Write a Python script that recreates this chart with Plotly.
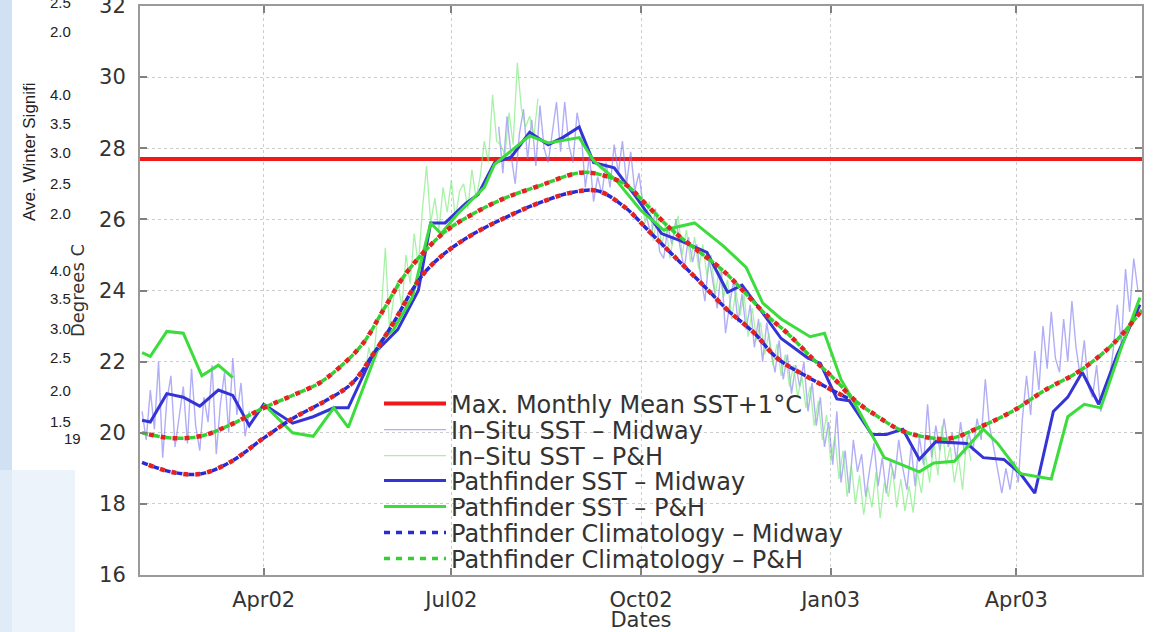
import numpy as np
import pandas as pd
import plotly.graph_objects as go

# ---------------- data ----------------
x_range = ["2002-01-31", "2003-06-01"]
tick_dates = ["2002-04-01", "2002-07-01", "2002-10-01", "2003-01-01", "2003-04-01"]
tick_labels = ["Apr02", "Jul02", "Oct02", "Jan03", "Apr03"]
y_ticks = [16, 18, 20, 22, 24, 26, 28, 30, 32]

max_mean_dates = ["2002-01-31", "2003-06-01"]
max_mean_sst = [27.7, 27.7]

insitu_step_days = 2
insitu_midway_a_start = "2002-02-01"
insitu_midway_a = [20.6, 19.8, 21.2, 20.1, 22.0, 19.3, 20.9, 21.6, 19.6, 20.4, 21.3, 19.7, 21.8, 20.2,
                   19.5, 21.0, 20.3, 21.9, 19.4, 20.8, 21.7, 20.0, 22.1, 20.5, 21.4, 19.9, 20.6]
insitu_midway_b_start = "2002-07-24"
insitu_midway_b = [28.6, 27.3, 28.9, 27.8, 27.0, 28.4, 29.1, 27.7, 28.8, 27.5, 29.2, 28.0,
                   27.6, 28.5, 29.3, 27.9, 29.3, 28.1, 27.6, 29.0, 28.4, 26.9, 27.8, 26.5,
                   27.2, 26.7, 27.6, 26.9, 28.1, 27.3, 28.2, 27.0, 27.9, 26.8, 27.3, 26.4,
                   26.0, 25.5, 26.3, 25.1, 24.9, 25.8, 25.3, 26.0, 25.2, 24.6, 25.5, 24.8,
                   25.3, 24.4, 23.7, 24.9, 24.2, 23.5, 24.6, 22.8, 23.6, 24.3, 23.1, 23.9,
                   22.9, 23.6, 22.4, 23.2, 22.0, 23.1, 22.3, 21.7, 22.6, 21.5, 22.2, 21.1,
                   21.9, 21.3, 22.0, 20.6, 21.4, 20.2, 21.0, 19.6, 20.3, 19.1, 20.6, 18.6,
                   19.5, 18.3, 19.8, 18.9, 19.4, 18.2, 19.0, 19.7, 18.5, 19.3, 18.3, 19.2,
                   18.7, 19.8, 19.0, 18.4, 19.6, 18.5, 19.9, 19.1, 20.8, 19.3, 20.2, 19.5,
                   20.4, 19.6, 20.0, 19.2, 20.3, 19.4, 20.0, 19.5, 20.4, 19.8, 21.5, 20.2,
                   19.6, 18.9, 18.3, 19.0, 18.4, 19.2, 18.6, 20.4, 21.6, 20.5, 22.3, 21.2,
                   23.0, 21.8, 23.4, 22.1, 21.7, 23.2, 22.0, 23.7, 22.4, 21.6, 22.6, 21.3,
                   21.0, 21.9, 20.6, 21.3, 21.4, 22.3, 23.6, 22.5, 24.6, 23.4, 24.9, 24.0]
insitu_ph_a_start = "2002-05-20"
insitu_ph_a = [21.6, 22.4, 21.9, 23.1, 23.4, 25.2, 22.9, 23.8, 24.3, 23.5, 25.0, 24.2,
               25.6, 24.7, 26.3, 27.5, 25.9, 26.6, 25.7, 26.9, 26.2, 27.1, 26.0, 26.8,
               27.0, 26.3, 27.4, 26.6, 27.2, 28.2, 27.6, 29.5, 28.2, 28.1, 27.8, 29.0,
               28.1, 30.4, 29.1, 28.6, 28.9, 28.3, 29.4]
insitu_ph_b_start = "2002-10-01"
insitu_ph_b = [26.8, 25.9, 26.5, 25.4, 26.2, 25.2, 25.9, 24.9, 25.6, 26.1, 25.0, 25.7,
               24.8, 25.5, 24.6, 25.3, 24.4, 25.0, 23.9, 24.6, 23.8, 24.3, 23.2, 24.0,
               23.3, 23.9, 22.7, 23.5, 22.6, 23.1, 22.2, 22.8, 21.9, 22.5, 21.6, 22.2,
               21.3, 21.9, 21.0, 21.6, 20.7, 21.3, 20.2, 20.9, 19.8, 20.5, 19.2, 19.9,
               18.7, 19.5, 18.2, 19.1, 18.0, 18.8, 17.7, 18.5, 17.9, 18.9, 17.6, 18.6,
               18.2, 19.0, 17.9, 18.7, 17.8, 18.5, 17.75, 18.9, 18.3, 19.4, 18.6, 19.8,
               18.8, 20.2, 19.1, 19.6, 18.6, 19.3, 18.4, 19.9, 19.2]

pf_midway_dates = ["2002-02-01", "2002-02-05", "2002-02-13", "2002-02-21", "2002-03-01", "2002-03-10",
                   "2002-03-17", "2002-03-25", "2002-04-01", "2002-04-15", "2002-04-25", "2002-05-05",
                   "2002-05-12", "2002-05-24", "2002-06-05", "2002-06-15", "2002-06-21", "2002-06-28",
                   "2002-07-08", "2002-07-14", "2002-07-22", "2002-07-30", "2002-08-08", "2002-08-17",
                   "2002-08-24", "2002-09-01", "2002-09-08", "2002-09-18", "2002-09-29", "2002-10-11",
                   "2002-10-20", "2002-11-02", "2002-11-12", "2002-11-19", "2002-11-28", "2002-12-08",
                   "2002-12-21", "2002-12-27", "2003-01-04", "2003-01-10", "2003-01-21", "2003-01-28",
                   "2003-02-05", "2003-02-13", "2003-02-21", "2003-03-08", "2003-03-16", "2003-03-26",
                   "2003-04-03", "2003-04-10", "2003-04-19", "2003-04-26", "2003-05-03", "2003-05-11",
                   "2003-05-20", "2003-05-31"]
pf_midway_sst = [20.35, 20.3, 21.1, 21.0, 20.75, 21.2, 21.05, 20.2, 20.8, 20.27, 20.45, 20.7,
                 20.7, 22.2, 22.9, 24.0, 25.9, 25.9, 26.45, 26.7, 27.6, 27.75, 28.45, 28.1,
                 28.3, 28.6, 27.6, 27.45, 26.6, 25.6, 25.4, 25.07, 23.95, 24.15, 23.45, 22.65,
                 22.1, 21.95, 20.95, 20.9, 19.95, 19.95, 20.1, 19.25, 19.75, 19.7, 19.3, 19.25,
                 18.85, 18.3, 20.6, 21.0, 21.7, 20.8, 22.2, 23.6]

pf_ph_dates = ["2002-02-01", "2002-02-05", "2002-02-13", "2002-02-21", "2002-03-02", "2002-03-10",
               "2002-03-17", "2002-03-24", "2002-04-01", "2002-04-15", "2002-04-25", "2002-05-05",
               "2002-05-12", "2002-05-21", "2002-05-28", "2002-06-03", "2002-06-12", "2002-06-21",
               "2002-06-26", "2002-07-04", "2002-07-17", "2002-07-22", "2002-08-08", "2002-08-17",
               "2002-09-01", "2002-09-08", "2002-09-19", "2002-10-01", "2002-10-12", "2002-10-27",
               "2002-11-10", "2002-11-21", "2002-11-29", "2002-12-08", "2002-12-22", "2002-12-29",
               "2003-01-06", "2003-01-12", "2003-01-19", "2003-01-27", "2003-02-13", "2003-02-20",
               "2003-03-02", "2003-03-16", "2003-03-23", "2003-04-03", "2003-04-18", "2003-04-26",
               "2003-05-04", "2003-05-12", "2003-05-22", "2003-05-31"]
pf_ph_sst = [22.25, 22.15, 22.85, 22.8, 21.6, 21.9, 21.55, None, 20.8, 20.0, 19.9, 20.7,
             20.15, 21.55, 22.6, 22.9, 23.8, 25.9, 25.6, 26.15, 26.9, 27.55, 28.35, 28.15,
             28.3, 27.65, 27.1, 26.25, 25.7, 25.9, 25.25, 24.65, 23.65, 23.2, 22.7, 22.8,
             21.5, 20.9, 20.15, 19.3, 18.9, 19.15, 19.2, 20.1, 19.7, 18.85, 18.7, 20.45,
             20.8, 20.7, 22.4, 23.8]

clim_midway_dates = ["2002-02-01", "2002-02-15", "2002-03-01", "2002-03-15", "2002-04-01", "2002-04-15",
                     "2002-05-01", "2002-05-14", "2002-05-24", "2002-06-03", "2002-06-13", "2002-06-19",
                     "2002-06-29", "2002-07-12", "2002-07-29", "2002-08-12", "2002-08-28", "2002-09-10",
                     "2002-09-23", "2002-10-06", "2002-10-19", "2002-11-01", "2002-11-12", "2002-11-25",
                     "2002-12-06", "2002-12-23", "2003-01-10"]
clim_midway_sst = [19.17, 18.9, 18.84, 19.15, 19.85, 20.4, 20.9, 21.4, 22.2, 23.1, 24.1, 24.57,
                   25.1, 25.6, 26.1, 26.45, 26.75, 26.8, 26.35, 25.6, 24.85, 24.1, 23.45, 22.8,
                   22.1, 21.5, 20.95]

clim_ph_dates = ["2002-02-01", "2002-02-15", "2002-03-01", "2002-03-15", "2002-04-01", "2002-04-15",
                 "2002-04-28", "2002-05-08", "2002-05-19", "2002-05-29", "2002-06-08", "2002-06-18",
                 "2002-06-29", "2002-07-12", "2002-07-27", "2002-08-13", "2002-08-31", "2002-09-08",
                 "2002-09-23", "2002-10-03", "2002-10-16", "2002-10-29", "2002-11-10", "2002-11-21",
                 "2002-12-01", "2002-12-11", "2002-12-23", "2003-01-03", "2003-01-13", "2003-01-24",
                 "2003-02-04", "2003-02-19", "2003-03-01", "2003-03-14", "2003-03-30", "2003-04-15",
                 "2003-05-02", "2003-05-18", "2003-06-01"]
clim_ph_sst = [20.0, 19.85, 19.9, 20.2, 20.7, 21.05, 21.4, 21.85, 22.5, 23.45, 24.4, 25.1,
               25.7, 26.17, 26.6, 26.95, 27.3, 27.3, 27.0, 26.45, 25.7, 25.1, 24.55, 23.9,
               23.3, 22.8, 22.1, 21.5, 20.9, 20.45, 20.07, 19.85, 19.85, 20.15, 20.6, 21.2,
               21.75, 22.5, 23.45]

legend_names = ["Max. Monthly Mean SST+1°C", "In–Situ SST – Midway", "In–Situ SST – P&H",
                "Pathfinder SST – Midway", "Pathfinder SST – P&H",
                "Pathfinder Climatology – Midway", "Pathfinder Climatology – P&H"]

remnant_ticks = [("2.5", 2), ("2.0", 31), ("4.0", 95), ("3.5", 124), ("3.0", 152), ("2.5", 183),
                 ("2.0", 213), ("4.0", 270), ("3.5", 299), ("3.0", 328), ("2.5", 357),
                 ("2.0", 390), ("1.5", 421)]

# ---------------- helpers ----------------
W, H = 1160, 632
ML, MR, MT, MB = 140, 18, 6, 57
PW, PH = W - ML - MR, H - MT - MB


def px_x(px):
    return (px - ML) / PW


def px_y(py):
    return (H - MB - py) / PH


def sampled_series(*segments):
    xs, ys = [], []
    for i, (start, vals) in enumerate(segments):
        d = pd.date_range(start, periods=len(vals), freq=f"{insitu_step_days}D")
        if i:
            xs.append(d[0] - pd.Timedelta(days=1))
            ys.append(None)
        xs += list(d)
        ys += list(vals)
    return xs, ys


FONT = "DejaVu Sans"
BLUE = "#3434d6"
GREEN = "#3ddc3d"
RED = "#f01818"

fig = go.Figure()

fig.add_trace(go.Scatter(x=max_mean_dates, y=max_mean_sst, mode="lines", name=legend_names[0],
                         line=dict(color=RED, width=4), legend="legend"))

xm, ym = sampled_series((insitu_midway_a_start, insitu_midway_a), (insitu_midway_b_start, insitu_midway_b))
fig.add_trace(go.Scatter(x=xm, y=ym, mode="lines", name=legend_names[1],
                         line=dict(color="rgba(125,120,240,0.6)", width=1.4), legend="legend2"))

xp, yp = sampled_series((insitu_ph_a_start, insitu_ph_a), (insitu_ph_b_start, insitu_ph_b))
fig.add_trace(go.Scatter(x=xp, y=yp, mode="lines", name=legend_names[2],
                         line=dict(color="rgba(120,235,120,0.65)", width=1.3), legend="legend3"))

fig.add_trace(go.Scatter(x=pf_midway_dates, y=pf_midway_sst, mode="lines", name=legend_names[3],
                         line=dict(color=BLUE, width=3), legend="legend4"))
fig.add_trace(go.Scatter(x=pf_ph_dates, y=pf_ph_sst, mode="lines", name=legend_names[4],
                         line=dict(color=GREEN, width=3), legend="legend5"))

fig.add_trace(go.Scatter(x=clim_midway_dates, y=clim_midway_sst, mode="lines", name=legend_names[5],
                         line=dict(color="#2a2ad0", width=3.5, dash="6px,6px", shape="spline"),
                         legend="legend6"))
fig.add_trace(go.Scatter(x=clim_midway_dates, y=clim_midway_sst, mode="lines", showlegend=False,
                         hoverinfo="skip",
                         line=dict(color="#e32222", width=4.5, dash="0px,7px,5px,0px", shape="spline")))
fig.add_trace(go.Scatter(x=clim_ph_dates, y=clim_ph_sst, mode="lines", name=legend_names[6],
                         line=dict(color="#33d033", width=3.5, dash="6px,6px", shape="spline"),
                         legend="legend7"))
fig.add_trace(go.Scatter(x=clim_ph_dates, y=clim_ph_sst, mode="lines", showlegend=False,
                         hoverinfo="skip",
                         line=dict(color="#e32222", width=4.5, dash="0px,7px,5px,0px", shape="spline")))

# legends (one entry each, to reproduce the tight MATLAB spacing)
legend_rows = [404, 430, 456, 481, 507, 533, 559]
legend_common = dict(x=px_x(379), xanchor="left", yanchor="middle", bgcolor="rgba(0,0,0,0)",
                     borderwidth=0, itemwidth=62, font=dict(family=FONT, size=24, color="#333333"))
legend_layout = {}
for i, row in enumerate(legend_rows):
    key = "legend" if i == 0 else f"legend{i + 1}"
    legend_layout[key] = dict(legend_common, y=px_y(row))

axis_common = dict(showline=True, linecolor="#9a9a9a", linewidth=2, mirror="ticks",
                   ticks="inside", ticklen=7, tickwidth=1.5, tickcolor="#808080",
                   showgrid=True, gridcolor="#cdcdcd", griddash="dot", gridwidth=1, zeroline=False,
                   ticklabeloverflow="allow", automargin=False)

fig.update_layout(
    width=W, height=H, autosize=False,
    margin=dict(l=ML, r=MR, t=MT, b=MB, autoexpand=False),
    paper_bgcolor="white", plot_bgcolor="white",
    font=dict(family=FONT, color="#333333"),
    xaxis=dict(axis_common, type="date", range=x_range, tickvals=tick_dates, ticktext=tick_labels,
               tickfont=dict(size=21, color="#333333"), ticklabelstandoff=5,
               title=dict(text="Dates", font=dict(size=21, color="#333333"), standoff=1)),
    yaxis=dict(axis_common, range=[16, 32], tickvals=y_ticks,
               tickfont=dict(size=21, color="#333333"), ticklabelstandoff=8,
               title=dict(text="Degrees C", font=dict(size=18, color="#333333"), standoff=10)),
    **legend_layout,
)

# slide background remnants on the left
fig.add_shape(type="rect", xref="paper", yref="paper", layer="below",
              x0=px_x(0), x1=px_x(12), y0=px_y(H), y1=px_y(0),
              fillcolor="#cfe1f2", line_width=0)
fig.add_shape(type="rect", xref="paper", yref="paper", layer="below",
              x0=px_x(0), x1=px_x(75), y0=px_y(H), y1=px_y(470),
              fillcolor="#ecf3fa", line_width=0)
fig.add_shape(type="rect", xref="paper", yref="paper", layer="below",
              x0=px_x(0), x1=px_x(12), y0=px_y(H), y1=px_y(470),
              fillcolor="#dfebf7", line_width=0)

fig.add_annotation(text="Ave. Winter Signifi", xref="paper", yref="paper",
                   x=px_x(18), y=px_y(80), textangle=-90, showarrow=False,
                   font=dict(family="Liberation Sans", size=17, color="#222222"))
for txt, py in remnant_ticks:
    fig.add_annotation(text=txt, xref="paper", yref="paper", x=px_x(73), y=px_y(py),
                       xanchor="right", yanchor="middle", showarrow=False,
                       font=dict(family="Liberation Sans", size=15, color="#222222"))
fig.add_annotation(text="19", xref="paper", yref="paper", x=px_x(62), y=px_y(438),
                   xanchor="left", yanchor="middle", showarrow=False,
                   font=dict(family="Liberation Sans", size=15, color="#222222"))

fig.write_html("out.html", config={"displayModeBar": False},
               post_script="document.body.style.margin='0';document.body.style.padding='0';"
                           "document.body.style.overflow='hidden';")
